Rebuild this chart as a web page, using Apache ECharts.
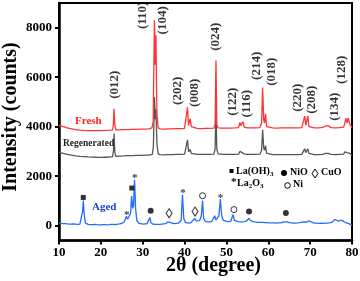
<!DOCTYPE html>
<html><head><meta charset="utf-8">
<script src="https://cdn.jsdelivr.net/npm/echarts@6/dist/echarts.min.js"></script>
<style>html,body{margin:0;padding:0;background:#fff}#c{width:360px;height:281px}</style>
</head><body><div id="c"></div>
<script>
const FONT = "'Liberation Serif','Times New Roman',serif";
const xTicks = [10,20,30,40,50,60,70,80];
const yTicks = [0,2000,4000,6000,8000];

const fresh = [[10,4050],[11,4000],[12,3950],[13,3910],[14,3880],[15,3860],[16,3850],[17,3845],[18,3840],[19,3838],[20,3845],[21,3850],[22,3858],[22.8,3870],[23.0,4100],[23.15,4720],[23.35,4050],[23.6,3870],[24.5,3872],[25.5,3880],[26.5,3882],[27.5,3890],[28.5,3892],[29.5,3900],[30.5,3902],[31.5,3910],[32.2,3950],[32.5,4200],[32.8,8300],[33.0,6500],[33.15,7700],[33.4,4500],[33.7,3950],[34.2,3915],[35,3905],[36,3912],[37,3910],[38,3920],[39,3922],[40,3930],[40.4,3960],[40.7,4780],[40.95,4050],[41.15,4100],[41.35,4320],[41.6,4000],[42,3935],[43,3930],[44,3925],[45,3932],[46,3930],[47,3940],[47.3,4100],[47.5,6680],[47.7,4100],[48,3950],[49,3942],[50,3940],[51,3945],[52,3950],[52.9,3960],[53.2,4170],[53.45,4050],[53.75,4080],[53.95,4200],[54.25,3980],[55,3950],[56,3955],[57,3950],[58,3962],[58.4,4150],[58.65,5580],[58.9,4300],[59.1,4150],[59.35,4520],[59.6,4000],[60,3952],[61,3950],[62,3945],[63,3952],[64,3950],[65,3955],[66,3950],[67,3952],[68,3960],[68.4,4000],[68.7,4430],[68.95,4050],[69.2,4050],[69.45,4440],[69.7,4000],[70,3962],[71,3950],[72,3955],[73,3970],[73.7,4030],[74.3,4040],[75,3962],[76,3952],[77,3960],[78,3985],[78.3,4150],[78.55,4350],[78.8,4150],[79.1,4360],[79.5,4100],[80,3960]];

const regenerated = [[10,2960],[11,2920],[12,2880],[13,2850],[14,2822],[15,2800],[16,2790],[17,2780],[18,2772],[19,2765],[20,2760],[21,2765],[22,2770],[22.8,2790],[23.0,3000],[23.15,3720],[23.35,2950],[23.6,2800],[24.5,2812],[25.5,2820],[26.5,2830],[27.5,2832],[28.5,2840],[29.5,2842],[30.5,2850],[31.5,2852],[32.3,2880],[32.55,3200],[32.8,5200],[33.0,4300],[33.15,4700],[33.4,3300],[33.7,2900],[34.2,2870],[35,2860],[36,2870],[37,2868],[38,2880],[39,2878],[40,2890],[40.4,2920],[40.7,3470],[40.95,2980],[41.15,3000],[41.35,3080],[41.6,2920],[42,2890],[43,2882],[44,2880],[45,2885],[46,2880],[47,2890],[47.3,3100],[47.5,4700],[47.7,3100],[48,2900],[49,2882],[50,2880],[51,2885],[52,2880],[52.9,2890],[53.2,3000],[53.45,2930],[53.75,2950],[53.95,3010],[54.25,2900],[55,2882],[56,2880],[57,2885],[58,2890],[58.4,3050],[58.65,3880],[58.9,3150],[59.1,3050],[59.35,3230],[59.6,2930],[60,2880],[61,2872],[62,2870],[63,2875],[64,2870],[65,2872],[66,2870],[67,2875],[68,2880],[68.4,2920],[68.7,3110],[68.95,2950],[69.2,2960],[69.45,3110],[69.7,2920],[70,2880],[71,2870],[72,2872],[73,2880],[73.7,2920],[74.3,2920],[75,2880],[76,2870],[77,2880],[78,2890],[78.3,2980],[78.55,3000],[78.8,2950],[79.1,3020],[79.5,2920],[80,2850]];

const aged = [[10,100],[10.5,90],[11,80],[11.5,85],[12,70],[12.5,65],[13,60],[13.5,70],[14,60],[14.5,55],[15,60],[15.4,100],[15.65,600],[15.8,1020],[16.0,500],[16.3,100],[16.7,60],[17,50],[17.5,45],[18,40],[18.5,50],[19,40],[19.5,35],[20,30],[20.5,40],[21,40],[21.5,35],[22,40],[22.5,50],[23,50],[23.5,45],[24,60],[24.5,70],[25,90],[25.5,140],[25.8,250],[26.1,380],[26.4,260],[26.8,220],[27.1,500],[27.35,1200],[27.6,700],[27.8,800],[28.05,1850],[28.3,700],[28.6,200],[29,100],[29.5,80],[30,60],[30.5,70],[31,70],[31.4,120],[31.7,330],[31.95,120],[32.5,60],[33,55],[33.5,50],[34,55],[34.5,60],[35,70],[35.5,80],[36.0,150],[36.3,210],[36.6,120],[37,90],[37.5,80],[38,90],[38.5,100],[38.9,130],[39.2,220],[39.5,1250],[39.8,300],[40.2,130],[40.6,110],[41,100],[41.5,120],[41.9,160],[42.4,290],[42.8,190],[43.2,170],[43.6,200],[44.0,400],[44.3,1010],[44.55,300],[45,160],[45.5,150],[46,150],[46.5,170],[46.9,230],[47.2,400],[47.5,230],[47.9,260],[48.2,400],[48.55,1080],[48.85,420],[49.2,220],[49.6,180],[50,170],[50.5,160],[51,170],[51.3,220],[51.6,450],[51.9,210],[52.3,170],[52.8,160],[53.3,150],[53.8,155],[54.3,160],[54.8,190],[55.2,260],[55.4,300],[55.7,210],[56.2,170],[56.7,150],[57.2,140],[57.7,130],[58.2,135],[58.7,130],[59.2,120],[59.7,125],[60.2,110],[60.7,115],[61.2,110],[61.7,105],[62.2,110],[62.7,115],[63.2,120],[63.7,150],[64.1,210],[64.5,150],[65,120],[65.5,110],[66,100],[66.5,105],[67,110],[67.5,120],[68,140],[68.3,170],[68.7,150],[69.2,140],[69.7,200],[70.1,160],[70.6,120],[71.1,105],[71.6,100],[72.1,95],[72.6,100],[73.1,95],[73.6,100],[74.1,105],[74.6,110],[75.1,130],[75.5,180],[75.9,250],[76.3,170],[76.8,180],[77.3,230],[77.6,250],[78,170],[78.5,120],[79,90],[79.5,60],[80,20]];

const hklNames = ['(012)','(110)','(104)','(202)','(008)','(024)','(122)','(116)','(214)','(018)','(220)','(208)','(134)','(128)'];
const hklX = [23.4,30.1,34.8,38.4,42.5,47.5,51.6,54.9,57.3,60.9,67.1,70.4,75.9,77.6];
const hklY = [5700,8500,8300,5450,5370,7640,5010,4930,6460,6220,5170,5090,4810,6300];

const lahMarks = [[15.8,1140],[27.4,1520]];
const la2o3Marks = [[26.2,500],[28.1,1990],[39.6,1410],[48.6,1210]];
const nioMarks = [[31.9,600],[55.4,570],[64.2,510]];
const cuoMarks = [[36.3,500],[42.5,570]];
const niMarks = [[44.3,1210],[51.8,650]];

const chart = echarts.init(document.getElementById('c'), null, {renderer:'canvas'});

const hklData = hklNames.map((n,i)=>({value:[hklX[i],hklY[i]], name:n}));

function markSeries(data, symbol, size, fill, stroke, extra){
  return Object.assign({
    type:'scatter', data:data, symbol:symbol, symbolSize:size, z:5,
    itemStyle:{color:fill, borderColor:stroke||fill, borderWidth: stroke? 1 : 0}, silent:true
  }, extra||{});
}

chart.setOption({
  animation:false,
  backgroundColor:'#fff',
  grid:{left:59, right:8, top:3, bottom:40.5, containLabel:false, outerBoundsMode:'none', show:true, borderColor:'#000', borderWidth:2, backgroundColor:'transparent'},
  xAxis:{
    type:'value', min:10, max:80, interval:10,
    axisLine:{show:true, onZero:false, lineStyle:{color:'#000', width:2.5}},
    axisTick:{show:true, inside:false, length:4, lineStyle:{color:'#000', width:2}},
    axisLabel:{fontFamily:FONT, fontWeight:'bold', fontSize:13, color:'#000', margin:6, formatter:v=>String(v)},
    splitLine:{show:false}
  },
  yAxis:{
    type:'value', min:-600, max:9000,
    axisLine:{show:true, onZero:false, lineStyle:{color:'#000', width:2.5}},
    axisTick:{show:true, inside:false, length:4, lineStyle:{color:'#000', width:2}, customValues:yTicks},
    axisLabel:{fontFamily:FONT, fontWeight:'bold', fontSize:13, color:'#000', margin:7, customValues:yTicks, formatter:v=>String(v)},
    splitLine:{show:false}
  },
  series:[
    {type:'line', data:aged, showSymbol:false, symbol:'none', lineStyle:{color:'#1f6cff', width:1.3}, z:2, silent:true},
    {type:'line', data:regenerated, showSymbol:false, symbol:'none', lineStyle:{color:'#555555', width:1.3}, z:2, silent:true},
    {type:'line', data:fresh, showSymbol:false, symbol:'none', lineStyle:{color:'#ff3333', width:1.3}, z:3, silent:true},
    {type:'scatter', data:hklData, symbolSize:0, z:6, silent:true,
      label:{show:true, position:'inside', rotate:90, formatter:p=>p.name, fontFamily:FONT, fontWeight:'bold', fontSize:13, color:'#000', align:'center', verticalAlign:'middle'}},
    markSeries(lahMarks, 'rect', 5, '#000', null),
    markSeries(nioMarks, 'circle', 6, '#000', null),
    markSeries(cuoMarks, 'diamond', [6,9], '#fff', '#000'),
    markSeries(niMarks, 'circle', 6, '#fff', '#000'),
    markSeries(la2o3Marks, 'circle', 0, '#000', null, {label:{show:true, position:'inside', formatter:'*', fontFamily:FONT, fontWeight:'bold', fontSize:11, color:'#000', offset:[0,2]}})
  ],
  graphic:[
    {type:'text', x:11, y:117, rotation:Math.PI/2, z:10, style:{text:'Intensity (counts)', fill:'#000', font:"bold 20px 'Liberation Serif', serif", align:'center', verticalAlign:'middle', textAlign:'center', textVerticalAlign:'middle'}},
    {type:'text', x:213.5, y:266, z:10, style:{text:'2θ (degree)', fill:'#000', font:"bold 20px 'Liberation Serif', serif", align:'center', verticalAlign:'middle', textAlign:'center', textVerticalAlign:'middle'}},
    {type:'text', left:75, top:116, z:10, style:{text:'Fresh', fill:'#ff2020', font:"bold 11px 'Liberation Serif', serif"}},
    {type:'text', left:63, top:139, z:10, style:{text:'Regenerated', fill:'#222', font:"bold 9.5px 'Liberation Serif', serif"}},
    {type:'text', left:92, top:202, z:10, style:{text:'Aged', fill:'#1f46c8', font:"bold 11px 'Liberation Serif', serif"}},
    {type:'rect', z:10, shape:{x:229.5, y:169, width:4, height:4}, style:{fill:'#000'}},
    {type:'text', left:236, top:166, z:10, style:{text:'{a|La(OH)}{s|3}', rich:{a:{fontFamily:FONT, fontWeight:'bold', fontSize:10, fill:'#000'}, s:{fontFamily:FONT, fontWeight:'bold', fontSize:7, fill:'#000', padding:[6,0,0,0]}}}},
    {type:'circle', z:10, shape:{cx:284, cy:173, r:3}, style:{fill:'#000'}},
    {type:'text', left:290, top:167, z:10, style:{text:'NiO', fill:'#000', font:"bold 10px 'Liberation Serif', serif"}},
    {type:'polygon', z:10, shape:{points:[[315,169],[318,173.5],[315,178],[312,173.5]]}, style:{fill:'#fff', stroke:'#000', lineWidth:1}},
    {type:'text', left:321, top:167, z:10, style:{text:'CuO', fill:'#000', font:"bold 10px 'Liberation Serif', serif"}},
    {type:'text', left:231, top:177, z:10, style:{text:'*', fill:'#000', font:"bold 11px 'Liberation Serif', serif"}},
    {type:'text', left:237, top:178, z:10, style:{text:'{a|La}{s|2}{a|O}{s|3}', rich:{a:{fontFamily:FONT, fontWeight:'bold', fontSize:10, fill:'#000'}, s:{fontFamily:FONT, fontWeight:'bold', fontSize:7, fill:'#000', padding:[6,0,0,0]}}}},
    {type:'circle', z:10, shape:{cx:287.5, cy:185.5, r:2.8}, style:{fill:'#fff', stroke:'#000', lineWidth:1}},
    {type:'text', left:293, top:179, z:10, style:{text:'Ni', fill:'#000', font:"bold 10px 'Liberation Serif', serif"}}
  ]
});
</script>
</body></html>
